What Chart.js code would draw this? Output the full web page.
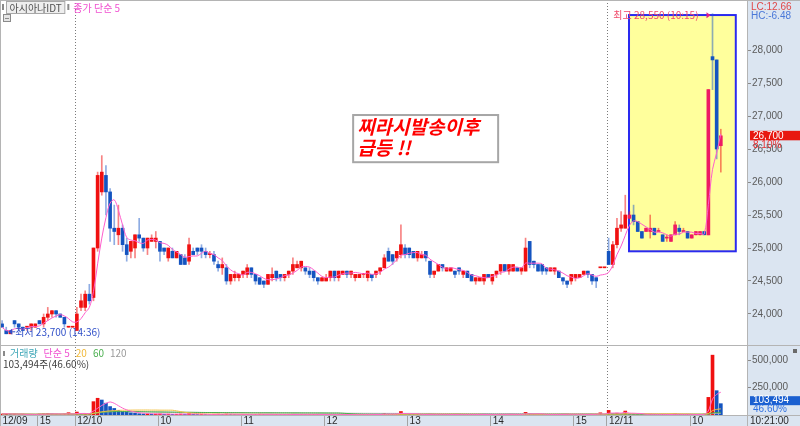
<!DOCTYPE html>
<html>
<head>
<meta charset="utf-8">
<script src="https://cdn.jsdelivr.net/npm/chart.js@4/dist/chart.umd.min.js"></script>
<style>
  html, body { margin: 0; padding: 0; background: #fff; }
  #wrap { position: relative; width: 800px; height: 426px; overflow: hidden; }
  #priceCanvas { position: absolute; left: 0; top: 0; }
  #volCanvas { position: absolute; left: 0; top: 346px; }
</style>
</head>
<body>
<div id="wrap">
  <canvas id="priceCanvas" width="800" height="346"></canvas>
  <canvas id="volCanvas" width="800" height="80"></canvas>
</div>
<script>
// 3-minute candles, slot 0 = 12/09 14:33, slot 18 = 12/10 09:00, slot 146 = 12/11 09:00
const stockName = '아시아나IDT';
const tickSlots = [0, 9, 18, 38, 58, 78, 98, 118, 138, 146, 166];
const tickLabels = ['12/09', '15', '12/10', '10', '11', '12', '13', '14', '15', '12/11', '10'];
const dayStartSlots = [18, 146];
const priceTicks = [24000, 24500, 25000, 25500, 26000, 26500, 27000, 27500, 28000];
const volumeTicks = [250000, 500000];
const prevClose = 24700;
const hiTime = '10:15';
const loTime = '14:36';
const lastTime = '10:21:00';

const opens = [
  23850, 23750, 23700, 23900, 23850, 23800, 23800, 23800, 23800, 23900,
  23850, 23950, 24000, 24050, 24000, 23950, 23800, 23800, 23750, 24100,
  24100, 24300, 24250, 25000, 25850, 26100, 25850, 25300, 25200, 25300,
  25050, 24950, 25000, 25200, 25150, 25000, 25100, 25100, 25100, 25000,
  24850, 24950, 24850, 24900, 24850, 24800, 24950, 25000, 25000, 24950,
  24900, 24900, 24750, 24700, 24700, 24500, 24550, 24550, 24600, 24600,
  24700, 24600, 24550, 24500, 24450, 24550, 24650, 24600, 24550, 24600,
  24650, 24700, 24700, 24700, 24650, 24650, 24550, 24500, 24500, 24550,
  24650, 24550, 24600, 24650, 24600, 24550, 24550, 24600, 24550, 24600,
  24600, 24650, 24700, 24950, 24900, 24850, 24900, 25000, 25000, 24950,
  24850, 24850, 24950, 24800, 24600, 24650, 24750, 24650, 24650, 24650,
  24700, 24600, 24650, 24600, 24500, 24500, 24500, 24600, 24500, 24600,
  24650, 24750, 24650, 24650, 24700, 24650, 24650, 25100, 24800, 24750,
  24750, 24700, 24650, 24650, 24650, 24550, 24500, 24500, 24550, 24550,
  24600, 24650, 24600, 24550, 24700, 24700, 24950, 24750, 25050, 25300,
  25300, 25450, 25500, 25400, 25250, 25250, 25250, 25300, 25250, 25200,
  25150, 25100, 25200, 25300, 25250, 25250, 25150, 25200, 25200, 25250,
  25200, 27900, 27850, 26550
];
const highs = [
  23900, 23800, 23750, 23900, 23850, 23800, 23800, 23850, 23850, 23900,
  24000, 24100, 24050, 24050, 24000, 23950, 23800, 23800, 24100, 24300,
  24350, 24450, 25000, 26150, 26400, 26250, 25900, 25650, 25650, 25350,
  25150, 25100, 25200, 25450, 25150, 25150, 25200, 25250, 25100, 25000,
  25000, 25000, 24950, 24900, 24900, 25150, 25000, 25000, 25050, 25000,
  24950, 24950, 24800, 24850, 24750, 24600, 24650, 24600, 24650, 24750,
  24700, 24600, 24550, 24500, 24600, 24700, 24650, 24600, 24600, 24650,
  24850, 24800, 24800, 24700, 24700, 24650, 24550, 24550, 24600, 24650,
  24650, 24650, 24650, 24650, 24650, 24600, 24600, 24600, 24650, 24600,
  24650, 24700, 24900, 25000, 24900, 24950, 25350, 25050, 25000, 24950,
  24950, 24950, 24950, 24800, 24650, 24750, 24750, 24700, 24700, 24650,
  24700, 24650, 24650, 24600, 24550, 24550, 24600, 24600, 24600, 24650,
  24750, 24750, 24750, 24750, 24700, 24700, 25150, 25100, 24800, 24750,
  24750, 24700, 24700, 24700, 24650, 24550, 24500, 24600, 24600, 24600,
  24650, 24650, 24600, 24550, 24700, 24700, 25150, 25100, 25450, 25550,
  25800, 25550, 25650, 25400, 25250, 25300, 25500, 25300, 25300, 25200,
  25200, 25200, 25400, 25350, 25300, 25250, 25200, 25250, 25250, 25250,
  27400, 28550, 27850, 26800
];
const lows = [
  23800, 23700, 23700, 23800, 23750, 23750, 23750, 23750, 23800, 23850,
  23800, 23900, 23950, 23950, 23950, 23800, 23800, 23800, 23750, 24050,
  24050, 24150, 24200, 24950, 25800, 25500, 25100, 25050, 25050, 24950,
  24800, 24850, 24850, 25100, 24950, 24900, 25100, 25000, 24800, 24900,
  24800, 24850, 24850, 24750, 24750, 24750, 24900, 24900, 24850, 24850,
  24850, 24750, 24650, 24600, 24450, 24450, 24500, 24500, 24550, 24550,
  24550, 24450, 24450, 24400, 24450, 24500, 24500, 24500, 24500, 24550,
  24600, 24700, 24650, 24600, 24550, 24500, 24450, 24500, 24500, 24500,
  24500, 24500, 24600, 24550, 24550, 24500, 24550, 24550, 24500, 24500,
  24550, 24600, 24700, 24800, 24750, 24800, 24850, 24850, 24850, 24850,
  24800, 24850, 24800, 24550, 24550, 24650, 24650, 24650, 24650, 24550,
  24600, 24550, 24550, 24500, 24450, 24500, 24450, 24550, 24450, 24550,
  24600, 24650, 24600, 24650, 24650, 24600, 24650, 24700, 24700, 24650,
  24600, 24600, 24650, 24600, 24550, 24450, 24400, 24450, 24500, 24550,
  24600, 24550, 24450, 24400, 24700, 24700, 24750, 24700, 25000, 25250,
  25300, 25450, 25350, 25250, 25150, 25250, 25150, 25200, 25250, 25100,
  25100, 25100, 25200, 25200, 25250, 25150, 25150, 25200, 25200, 25200,
  25200, 27400, 26350, 26150
];
const closes = [
  23800, 23700, 23750, 23850, 23800, 23750, 23800, 23850, 23850, 23850,
  23950, 24000, 24050, 24000, 23950, 23850, 23800, 23800, 24000, 24200,
  24300, 24200, 25000, 26100, 26150, 25850, 25300, 25250, 25300, 25050,
  24900, 25100, 25200, 25150, 25000, 25150, 25150, 25150, 24950, 24950,
  25000, 24850, 24950, 24750, 24750, 25050, 24900, 24950, 24950, 24900,
  24900, 24800, 24700, 24750, 24500, 24600, 24600, 24600, 24650, 24700,
  24600, 24500, 24450, 24450, 24600, 24600, 24550, 24550, 24600, 24650,
  24750, 24750, 24800, 24650, 24600, 24550, 24500, 24550, 24550, 24650,
  24550, 24650, 24650, 24600, 24650, 24600, 24600, 24600, 24650, 24550,
  24650, 24700, 24850, 24800, 24800, 24950, 25050, 24900, 24900, 24850,
  24950, 24900, 24850, 24600, 24650, 24750, 24700, 24700, 24700, 24600,
  24650, 24650, 24550, 24500, 24550, 24550, 24600, 24550, 24600, 24650,
  24750, 24650, 24750, 24750, 24650, 24700, 25000, 24750, 24750, 24650,
  24650, 24650, 24700, 24700, 24550, 24500, 24450, 24600, 24600, 24600,
  24650, 24600, 24500, 24500, 24700, 24700, 24750, 25050, 25300, 25350,
  25500, 25500, 25400, 25250, 25150, 25300, 25300, 25200, 25250, 25100,
  25150, 25200, 25350, 25250, 25250, 25150, 25200, 25250, 25250, 25200,
  27400, 27850, 26500, 26700
];
const volumes = [
  9000, 14000, 6000, 8000, 5000, 7000, 4000, 6000, 5000, 9000,
  11000, 13000, 10000, 7000, 6000, 9000, 21000, 4000, 27000, 9000,
  11000, 13000, 122000, 153000, 137000, 108000, 77000, 60000, 42000, 30000,
  25000, 20000, 17000, 12000, 10000, 11000, 8000, 9000, 10000, 7000,
  8000, 6000, 7000, 9000, 8000, 12000, 6000, 5000, 6000, 5000,
  4000, 7000, 8000, 6000, 9000, 7000, 5000, 4000, 5000, 6000,
  5000, 6000, 7000, 6000, 5000, 4000, 5000, 4000, 3000, 4000,
  7000, 5000, 6000, 4000, 4000, 5000, 6000, 3000, 4000, 5000,
  4000, 5000, 3000, 4000, 3000, 3000, 4000, 3000, 5000, 4000,
  4000, 6000, 15000, 9000, 7000, 8000, 32000, 9000, 6000, 5000,
  5000, 4000, 5000, 9000, 6000, 5000, 4000, 3000, 3000, 4000,
  4000, 3000, 5000, 6000, 5000, 4000, 5000, 4000, 6000, 5000,
  7000, 5000, 6000, 6000, 4000, 5000, 24000, 12000, 6000, 5000,
  4000, 4000, 5000, 5000, 6000, 7000, 8000, 6000, 5000, 4000,
  5000, 6000, 8000, 9000, 20000, 3000, 42000, 14000, 16000, 12000,
  36000, 9000, 8000, 7000, 6000, 5000, 7000, 5000, 4000, 6000,
  4000, 5000, 9000, 5000, 4000, 5000, 4000, 5000, 6000, 8000,
  161000, 547000, 222090, 103494
];

// axis ranges / annotation anchors (data units)
const slotMin = -0.5, slotMax = 179.3;
const priceMin = 23515, priceMax = 28758;
const volMax = 621600;
const highlight = { from: 150.9, to: 176.6, low: 24950, high: 28530 };
const note = { lines: ['찌라시발송이후', '급등 !!'], from: 84.5, to: 119.4, top: 27015, bottom: 26300 };

const PANEL_BG = '#dbe5f1';
const FRAME = '#b4b4b4';
const RED = '#f01010', PINK_RED = '#ee1a64', BLUE = '#1454c0';
const RED_WICK = 'rgba(240,30,30,0.55)', BLUE_WICK = 'rgba(30,90,200,0.5)';
const MA_PINK = '#ff5ccc';
const FONT = "'Liberation Sans', 'Noto Sans CJK KR', sans-serif";
const KFONT = "'Noto Sans CJK KR', 'Liberation Sans', sans-serif";

const fmt = v => Math.round(v).toLocaleString('en-US');
const slots = closes.map((_, i) => i);

function sma(arr, n) {
  return arr.map((_, i) => {
    const part = arr.slice(Math.max(0, i - n + 1), i + 1);
    return part.reduce((a, b) => a + b, 0) / part.length;
  });
}

const isDown = i => closes[i] < opens[i];
const inBox = i => i >= highlight.from && i <= highlight.to;
const bodyColor = i => isDown(i) ? BLUE : (inBox(i) ? PINK_RED : RED);
const wickColor = i => isDown(i) ? BLUE_WICK : RED_WICK;
const volColor = i => (i > 0 && volumes[i] < volumes[i - 1]) ? BLUE : RED;

const last = closes[closes.length - 1];
const hiVal = Math.max(...highs), hiIdx = highs.indexOf(hiVal);
const loVal = Math.min(...lows), loIdx = lows.indexOf(loVal);

function dayLines(chart, bottom) {
  const { ctx, chartArea: a, scales: { x } } = chart;
  ctx.save();
  ctx.strokeStyle = '#7a7a7a';
  ctx.lineWidth = 1;
  ctx.setLineDash([1, 2]);
  dayStartSlots.forEach(s => {
    const px = Math.round(x.getPixelForValue(s - 0.4)) + 0.5;
    ctx.beginPath(); ctx.moveTo(px, a.top); ctx.lineTo(px, bottom); ctx.stroke();
  });
  ctx.restore();
}

const priceDecor = {
  id: 'priceDecor',
  beforeDraw(chart) {
    const { ctx, chartArea: a } = chart;
    ctx.save();
    ctx.fillStyle = PANEL_BG;
    ctx.fillRect(a.right, 0, chart.width - a.right, chart.height);
    ctx.restore();
  },
  beforeDatasetsDraw(chart) {
    const { ctx, scales: { x, y } } = chart;
    ctx.save();
    const l = x.getPixelForValue(highlight.from), r = x.getPixelForValue(highlight.to);
    const t = y.getPixelForValue(highlight.high), b = y.getPixelForValue(highlight.low);
    ctx.fillStyle = '#ffff9c';
    ctx.fillRect(l, t, r - l, b - t);
    ctx.strokeStyle = '#2a2af0';
    ctx.lineWidth = 2;
    ctx.strokeRect(l, t, r - l, b - t);
    ctx.restore();
    dayLines(chart, chart.height);
  },
  afterDraw(chart) {
    const { ctx, chartArea: a, scales: { x, y } } = chart;
    ctx.save();
    // frame
    ctx.strokeStyle = FRAME; ctx.lineWidth = 1;
    ctx.beginPath();
    ctx.moveTo(0, 0.5); ctx.lineTo(chart.width, 0.5);
    ctx.moveTo(0.5, 0); ctx.lineTo(0.5, chart.height);
    ctx.moveTo(a.right + 0.5, 0); ctx.lineTo(a.right + 0.5, chart.height);
    ctx.moveTo(0, chart.height - 0.5); ctx.lineTo(chart.width, chart.height - 0.5);
    ctx.stroke();

    ctx.textBaseline = 'middle';
    // legend
    ctx.fillStyle = '#8a8a8a'; ctx.fillRect(2, 4, 2, 6);
    ctx.font = `10px ${KFONT}`;
    const nw = ctx.measureText(stockName).width;
    ctx.fillStyle = '#eeeeee'; ctx.fillRect(6.5, 1.5, nw + 6, 12);
    ctx.strokeStyle = '#a8a8a8'; ctx.strokeRect(6.5, 1.5, nw + 6, 12);
    ctx.fillStyle = '#505050'; ctx.fillText(stockName, 9.5, 8);
    ctx.fillStyle = '#8a8a8a'; ctx.fillRect(nw + 15, 4, 2, 6);
    ctx.fillStyle = '#f050d0'; ctx.fillText('종가 단순 5', nw + 21, 8);
    ctx.fillStyle = '#e4e4e4'; ctx.fillRect(3.5, 14.5, 7, 7);
    ctx.strokeStyle = '#8a8a8a'; ctx.strokeRect(3.5, 14.5, 7, 7);
    ctx.beginPath(); ctx.moveTo(5, 18.5); ctx.lineTo(9, 18.5); ctx.stroke();

    // LC / HC
    ctx.font = `10px ${FONT}`;
    ctx.fillStyle = '#e04848';
    ctx.fillText('LC:' + ((last - loVal) / loVal * 100).toFixed(2), a.right + 4, 7);
    ctx.fillStyle = '#4a78d8';
    ctx.fillText('HC:' + ((last - hiVal) / hiVal * 100).toFixed(2), a.right + 4, 16);

    // current price tag
    const py = y.getPixelForValue(last);
    ctx.fillStyle = '#e81810';
    ctx.fillRect(a.right + 3, py - 5, chart.width - a.right - 3, 9.5);
    ctx.fillStyle = '#ffffff';
    ctx.fillText(fmt(last), a.right + 6, py);
    ctx.fillStyle = '#e83030';
    ctx.fillText(((last - prevClose) / prevClose * 100).toFixed(2) + '%', a.right + 6, py + 9);

    // high / low markers
    const hx = x.getPixelForValue(hiIdx), hy = y.getPixelForValue(hiVal) + 1.5;
    ctx.fillStyle = '#f04a6a';
    ctx.textAlign = 'right';
    ctx.font = `10px ${KFONT}`;
    ctx.fillText(`최고 ${fmt(hiVal)} (${hiTime})`, hx - 14, hy);
    ctx.fillStyle = '#e0208a';
    ctx.beginPath(); ctx.moveTo(hx - 6, hy - 3); ctx.lineTo(hx - 2, hy); ctx.lineTo(hx - 6, hy + 3); ctx.fill();
    const lx = x.getPixelForValue(loIdx), ly = y.getPixelForValue(loVal) - 2;
    ctx.textAlign = 'left';
    ctx.fillStyle = '#3050c8';
    ctx.beginPath(); ctx.moveTo(lx + 2, ly); ctx.lineTo(lx + 6, ly - 3); ctx.lineTo(lx + 6, ly + 3); ctx.fill();
    ctx.fillRect(lx + 6, ly - 0.5, 3, 1);
    ctx.fillText(`최저 ${fmt(loVal)} (${loTime})`, lx + 9, ly);

    // note box
    const nl = x.getPixelForValue(note.from), nr = x.getPixelForValue(note.to);
    const nt = y.getPixelForValue(note.top), nb = y.getPixelForValue(note.bottom);
    ctx.fillStyle = '#ffffff';
    ctx.fillRect(nl, nt, nr - nl, nb - nt);
    ctx.strokeStyle = '#a6a6a6'; ctx.lineWidth = 2;
    ctx.strokeRect(nl, nt, nr - nl, nb - nt);
    ctx.fillStyle = '#ff0000';
    ctx.font = `italic bold 19px ${KFONT}`;
    note.lines.forEach((t, k) => ctx.fillText(t, nl + 4, nt + 12 + k * 21));
    ctx.restore();
  }
};

const volDecor = {
  id: 'volDecor',
  beforeDraw(chart) {
    const { ctx, chartArea: a } = chart;
    ctx.save();
    ctx.fillStyle = PANEL_BG;
    ctx.fillRect(a.right, 0, chart.width - a.right, chart.height);
    ctx.fillRect(0, a.bottom, chart.width, chart.height - a.bottom);
    ctx.restore();
  },
  beforeDatasetsDraw(chart) {
    dayLines(chart, chart.chartArea.bottom);
  },
  afterDraw(chart) {
    const { ctx, chartArea: a, scales: { y } } = chart;
    ctx.save();
    ctx.strokeStyle = FRAME; ctx.lineWidth = 1;
    ctx.beginPath();
    ctx.moveTo(0.5, 0); ctx.lineTo(0.5, chart.height);
    ctx.moveTo(a.right + 0.5, 0); ctx.lineTo(a.right + 0.5, chart.height);
    ctx.moveTo(0, a.bottom + 0.5); ctx.lineTo(chart.width, a.bottom + 0.5);
    ctx.stroke();

    ctx.textBaseline = 'middle';
    ctx.font = `10px ${KFONT}`;
    ctx.fillStyle = '#8a8a8a'; ctx.fillRect(3, 5, 2, 5);
    let cx = 10;
    [['거래량', '#40a8b8'], ['단순 5', '#f050d0'], ['20', '#f0b838'], ['60', '#4cb050'], ['120', '#9a9a9a']].forEach(([t, c]) => {
      ctx.fillStyle = c; ctx.fillText(t, cx, 7.5);
      cx += ctx.measureText(t).width + 6;
    });
    const lastVol = volumes[volumes.length - 1], prevVol = volumes[volumes.length - 2];
    const pct = (lastVol / prevVol * 100).toFixed(2) + '%';
    ctx.fillStyle = '#404040';
    ctx.fillText(`${fmt(lastVol)}주(${pct})`, 3, 18);

    // current volume tag
    const vy = y.getPixelForValue(lastVol) - 3;
    ctx.font = `10px ${FONT}`;
    ctx.fillStyle = '#1a5fd0';
    ctx.fillRect(a.right + 3, vy - 4.5, chart.width - a.right - 3, 9);
    ctx.fillStyle = '#ffffff';
    ctx.fillText(fmt(lastVol), a.right + 6, vy);
    ctx.fillStyle = '#3070e0';
    ctx.fillText(pct, a.right + 6, vy + 9);

    ctx.fillStyle = '#6a6a6a'; ctx.fillRect(chart.width - 7, 3, 4, 4);
    ctx.fillStyle = '#2a2a2a';
    ctx.fillText(lastTime, a.right + 3, a.bottom + 6);
    ctx.restore();
  }
};

const baseOptions = {
  responsive: false,
  animation: false,
  devicePixelRatio: 1,
  events: [],
  plugins: { legend: { display: false }, tooltip: { enabled: false } }
};

new Chart(document.getElementById('priceCanvas'), {
  type: 'bar',
  data: {
    datasets: [
      { type: 'line', data: slots.map(i => ({ x: i, y: sma(closes, 5)[i] })), borderColor: MA_PINK, borderWidth: 1,
        pointRadius: 0, tension: 0.35, order: 0 },
      { data: slots.map(i => ({ x: i, y: [opens[i], closes[i]] })), backgroundColor: c => bodyColor(c.dataIndex),
        barThickness: 3, minBarLength: 1, grouped: false, order: 1 },
      { data: slots.map(i => ({ x: i, y: [lows[i], highs[i]] })), backgroundColor: c => wickColor(c.dataIndex),
        barThickness: 1, grouped: false, order: 2 }
    ]
  },
  options: {
    ...baseOptions,
    layout: { padding: 0, autoPadding: false },
    scales: {
      x: { type: 'linear', display: false, min: slotMin, max: slotMax, offset: false },
      y: {
        position: 'right', min: priceMin, max: priceMax,
        afterBuildTicks: s => { s.ticks = priceTicks.map(v => ({ value: v })); },
        afterFit: s => { s.width = 53; s.paddingTop = 0; s.paddingBottom = 0; },
        grid: { drawOnChartArea: false, drawTicks: true, tickLength: 4, tickColor: '#8a8a8a', offset: false },
        border: { display: false },
        ticks: { autoSkip: false, padding: 1, color: '#5a5a5a', font: { family: FONT, size: 10 }, callback: v => fmt(v) }
      }
    }
  },
  plugins: [priceDecor]
});

const volLines = [[5, '#ff66cc'], [20, '#f2c040'], [60, '#44b048'], [120, '#a8a8a8']];
new Chart(document.getElementById('volCanvas'), {
  type: 'bar',
  data: {
    datasets: [
      ...volLines.map(([n, c], k) => ({ type: 'line', data: slots.map(i => ({ x: i, y: sma(volumes, n)[i] })),
        borderColor: c, borderWidth: 1, pointRadius: 0, tension: 0.3, order: k })),
      { data: slots.map(i => ({ x: i, y: volumes[i] })), backgroundColor: c => volColor(c.dataIndex),
        barThickness: 3, grouped: false, order: 9 }
    ]
  },
  options: {
    ...baseOptions,
    layout: { padding: { top: 1, left: 0, right: 0, bottom: 0 }, autoPadding: false },
    scales: {
      x: {
        type: 'linear', min: slotMin, max: slotMax, offset: false, position: 'bottom',
        afterBuildTicks: s => { s.ticks = tickSlots.map(v => ({ value: v - 0.4 })); },
        afterFit: s => { s.height = 11; s.paddingLeft = 0; s.paddingRight = 0; },
        grid: { drawOnChartArea: false, drawTicks: true, tickLength: 11, tickColor: '#a4a4a4', offset: false },
        border: { display: false },
        ticks: { autoSkip: false, maxRotation: 0, minRotation: 0, align: 'start', labelOffset: 2, padding: -10,
          color: '#2a2a2a', font: { family: FONT, size: 10, lineHeight: 1 }, callback: (v, i) => tickLabels[i] }
      },
      y: {
        position: 'right', min: 0, max: volMax,
        afterBuildTicks: s => { s.ticks = volumeTicks.map(v => ({ value: v })); },
        afterFit: s => { s.width = 53; s.paddingTop = 0; s.paddingBottom = 0; },
        grid: { drawOnChartArea: false, drawTicks: true, tickLength: 4, tickColor: '#8a8a8a', offset: false },
        border: { display: false },
        ticks: { autoSkip: false, padding: 1, color: '#5a5a5a', font: { family: FONT, size: 10 }, callback: v => fmt(v) }
      }
    }
  },
  plugins: [volDecor]
});
</script>
</body>
</html>
